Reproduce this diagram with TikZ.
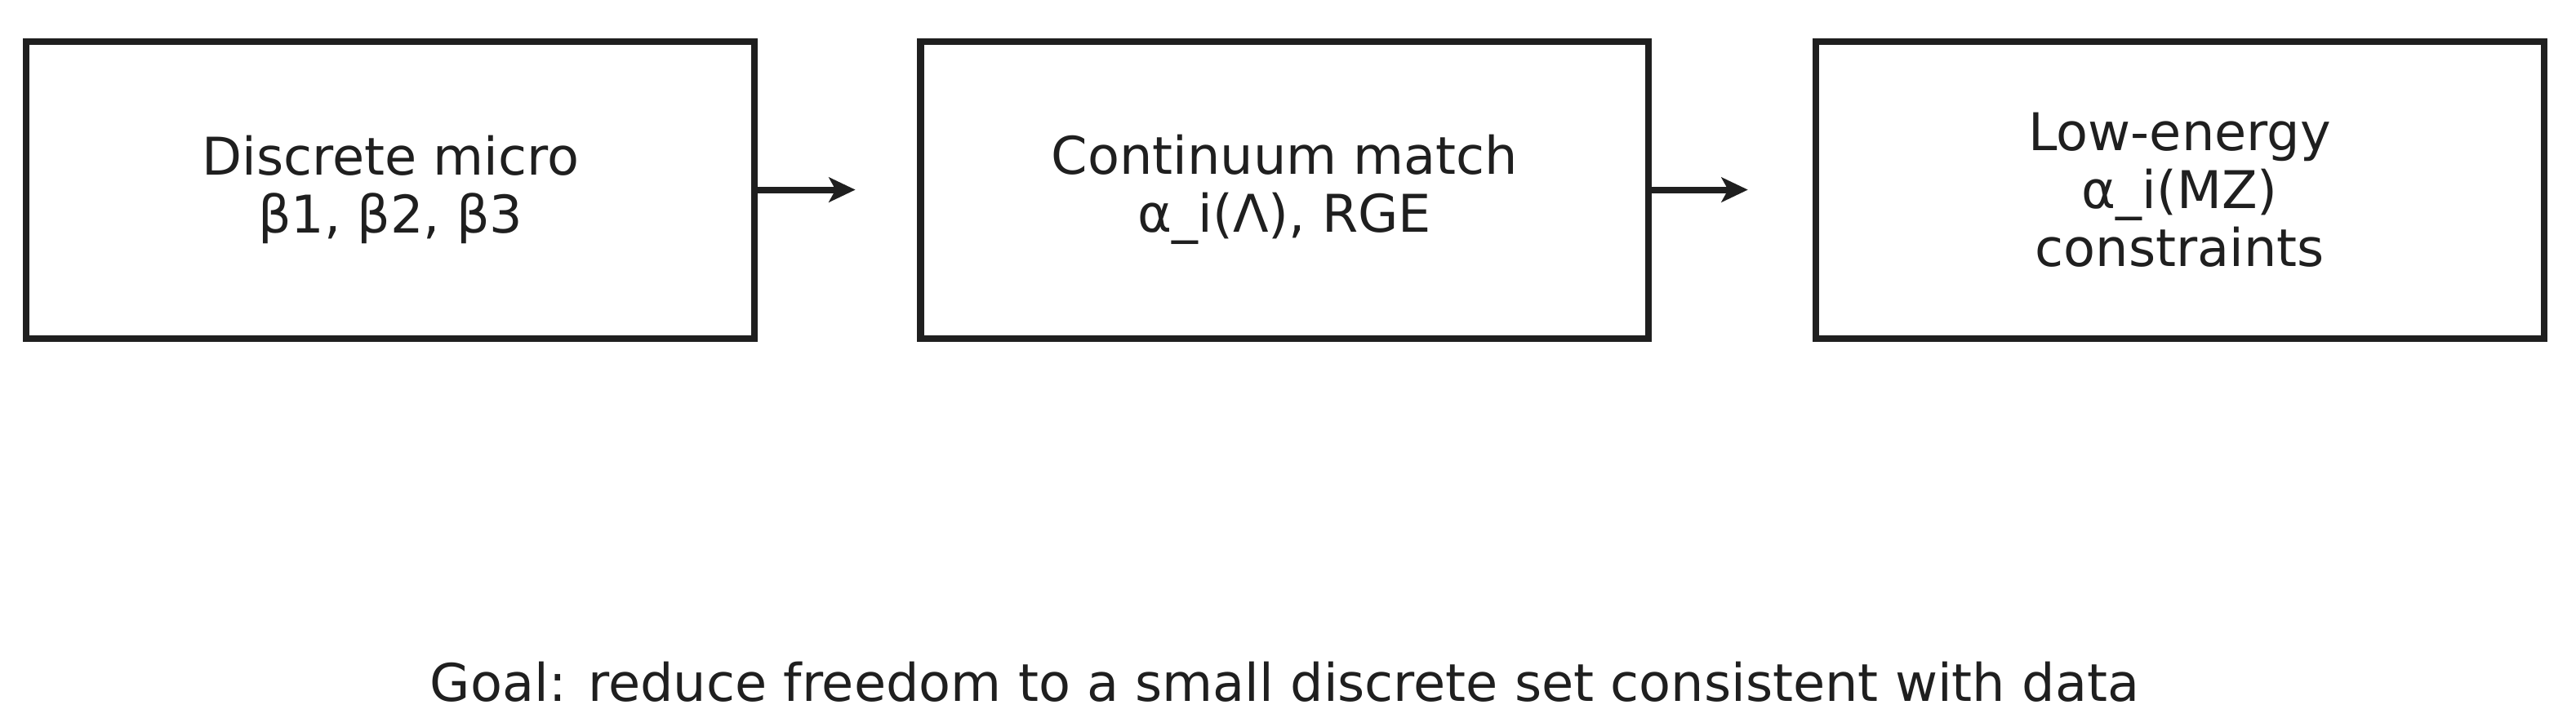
\documentclass[tikz,border=0pt]{standalone}
\usepackage{fontspec}
\setmainfont{DejaVu Sans}
\usetikzlibrary{arrows.meta}
\begin{document}
\begin{tikzpicture}[x=1pt,y=-1pt,
  stage/.style={draw=black!88,line width=4pt,minimum width=441pt,minimum height=180pt,align=center,font=\fontsize{31.5}{35}\selectfont,text=black!88},
  link/.style={draw=black!88,line width=4pt,-{Stealth[length=16pt,width=15pt,inset=4pt]}}]
\useasboundingbox (0,0) rectangle (1560,440.5);
\node[stage] (a) at (236.5,115) {Discrete micro\\β1, β2, β3};
\node[stage] (b) at (778,115) {Continuum match\\α\_i(Λ), RGE};
\node[stage] (c) at (1320,115) {Low-energy\\α\_i(MZ)\\constraints};
\draw[link] (a.east) -- ++(59,0) coordinate (ae);
\draw[link] (b.east) -- ++(58,0) coordinate (be);
\node[font=\fontsize{31.5}{35}\selectfont,text=black!88] (g) at (778,413) {Goal: reduce freedom to a small discrete set consistent with data};
\end{tikzpicture}
\end{document}
